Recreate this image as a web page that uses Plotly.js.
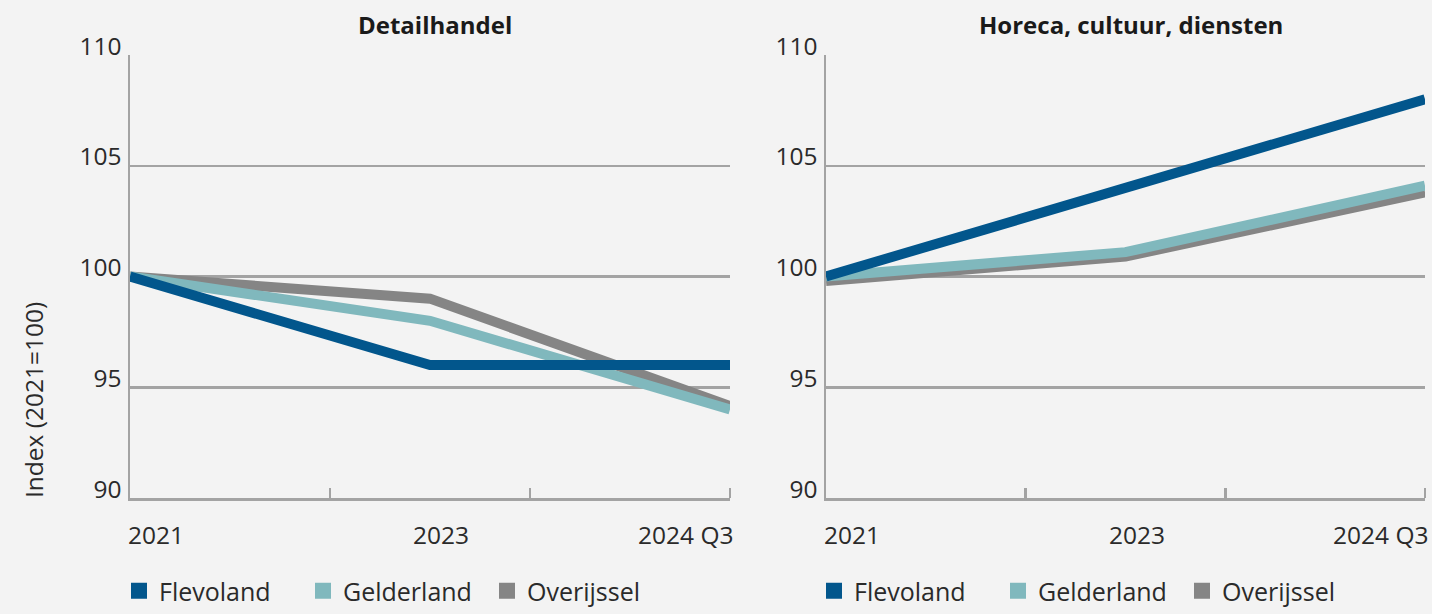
<!DOCTYPE html>
<html><head><meta charset="utf-8">
<script src="https://cdn.plot.ly/plotly-3.0.1.min.js"></script>
<style>html,body{margin:0;padding:0;background:#f3f3f3;}#chart{width:1432px;height:614px;}</style>
</head><body><div id="chart"></div>
<script>
// Data
const periods = ['2021', '2023', '2024 Q3'];
const periodPos = [0, 1.5, 3];
const seriesNames = ['Flevoland', 'Gelderland', 'Overijssel'];
const seriesColors = ['#02568c', '#80b8bd', '#858585'];
const panelTitles = ['Detailhandel', 'Horeca, cultuur, diensten'];
const detailFlevoland = [100, 96, 96];
const detailGelderland = [100, 98, 94.0];
const detailOverijssel = [100, 99, 94.15];
const horecaFlevoland = [100, 104, 108];
const horecaGelderland = [100, 101.1, 104.1];
const horecaOverijssel = [99.8, 100.9, 103.8];
const yTicks = [90, 95, 100, 105, 110];
const yTitle = 'Index (2021=100)';

const panels = [
  {values: [detailFlevoland, detailGelderland, detailOverijssel], xa: 'x', ya: 'y', legend: 'legend'},
  {values: [horecaFlevoland, horecaGelderland, horecaOverijssel], xa: 'x2', ya: 'y2', legend: 'legend2'}
];

const traces = [];
panels.forEach((p) => {
  [2, 1, 0].forEach((i) => {
    traces.push({
      type: 'scatter', mode: 'lines', x: periodPos, y: p.values[i],
      xaxis: p.xa, yaxis: p.ya, name: seriesNames[i],
      line: {color: seriesColors[i], width: 10}, showlegend: false, hoverinfo: 'skip'
    });
  });
  [0, 1, 2].forEach((i) => {
    traces.push({
      type: 'scatter', mode: 'markers', x: [null], y: [null],
      xaxis: p.xa, yaxis: p.ya, name: seriesNames[i], legend: p.legend,
      marker: {symbol: 'square', size: 17, color: seriesColors[i]}, showlegend: true
    });
  });
});

const W = 1432, H = 614;
const gridCol = '#a3a3a3';
const FAM = '"Open Sans", sans-serif';
const tickFont = {family: FAM, size: 24.5, color: '#2a2a2a'};
function xaxis(domain) {
  return {domain: domain, range: [0, 3], showgrid: false, zeroline: false,
    showline: true, linecolor: gridCol, linewidth: 2.5,
    tickvals: [], showticklabels: false,
    minor: {tickvals: [1, 2, 3], ticks: 'inside', ticklen: 10, tickcolor: gridCol, tickwidth: 2.5, showgrid: false},
    fixedrange: true};
}
function yaxis(anchor) {
  return {domain: [1 - 498 / H, 1 - 55 / H], range: [90, 110], anchor: anchor,
    tickvals: yTicks, ticktext: yTicks.map(String), tickfont: tickFont,
    showgrid: true, gridcolor: gridCol, gridwidth: 2.5, zeroline: false,
    showline: true, linecolor: gridCol, linewidth: 2.5, ticks: '', ticklabelstandoff: 1,
    ticklabelshift: -9, fixedrange: true};
}

const xd1 = [130 / W, 730 / W], xd2 = [826 / W, 1425 / W];
const annotations = [];
[['x', xd1], ['x2', xd2]].forEach(([xa, dom], k) => {
  periods.forEach((lab, j) => {
    annotations.push({xref: xa, yref: 'paper', x: periodPos[j], y: 1 - 534 / H,
      text: lab, showarrow: false, font: tickFont,
      xanchor: j === 0 ? 'left' : (j === 2 ? 'right' : 'center'), xshift: j === 1 ? 11 : (j === 2 ? 5 : -4), yanchor: 'middle'});
  });
  annotations.push({xref: 'paper', yref: 'paper', x: (dom[0] + dom[1]) / 2, y: 1 - 24 / H,
    text: '<b>' + panelTitles[k] + '</b>', showarrow: false,
    font: {family: FAM, size: 24, color: '#1a1a1a'}, xanchor: 'center', yanchor: 'middle', xshift: 5});
});
annotations.push({xref: 'paper', yref: 'paper', x: 33 / W, y: 1 - 400 / H, text: yTitle,
  textangle: -90, showarrow: false, font: tickFont, xanchor: 'center', yanchor: 'middle'});

const legendBase = {orientation: 'h', yanchor: 'bottom', y: 0, xanchor: 'left',
  font: {family: FAM, size: 25, color: '#2a2a2a'}, entrywidth: 139, entrywidthmode: 'pixels',
  bgcolor: 'rgba(0,0,0,0)', itemclick: false, itemdoubleclick: false, tracegroupgap: 0};

const layout = {
  width: W, height: H, margin: {l: 0, r: 0, t: 0, b: 0, autoexpand: false},
  paper_bgcolor: '#f3f3f3', plot_bgcolor: '#f3f3f3',
  xaxis: Object.assign(xaxis(xd1), {anchor: 'y'}), yaxis: yaxis('x'),
  xaxis2: Object.assign(xaxis(xd2), {anchor: 'y2'}), yaxis2: yaxis('x2'),
  showlegend: true,
  legend: Object.assign({}, legendBase, {x: 119 / W}),
  legend2: Object.assign({}, legendBase, {x: 814 / W}),
  annotations: annotations
};
Plotly.newPlot('chart', traces, layout, {displayModeBar: false, staticPlot: true});
</script></body></html>
